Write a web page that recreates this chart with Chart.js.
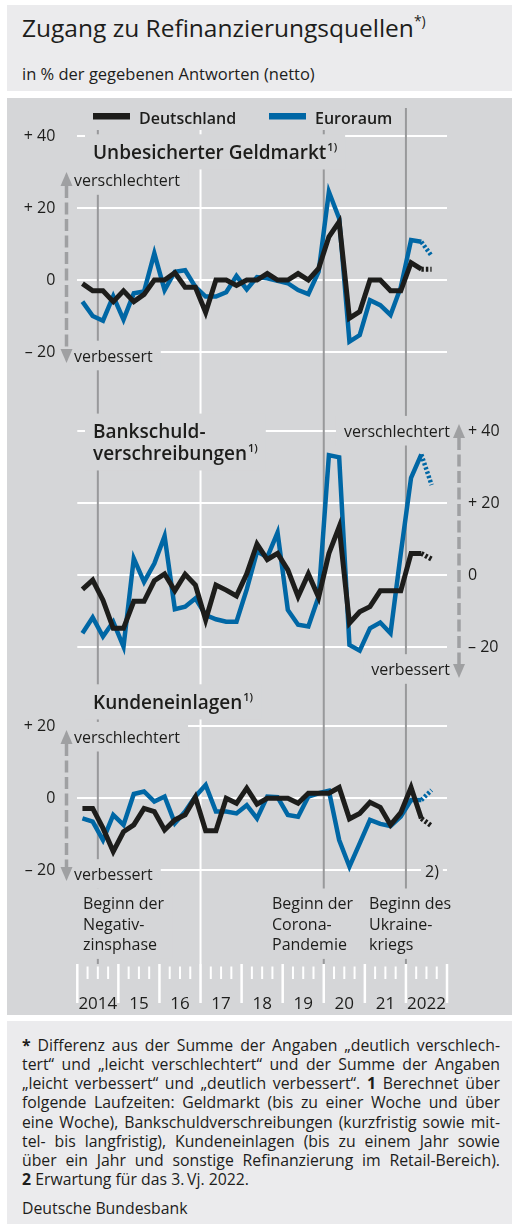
<!DOCTYPE html>
<html lang="de">
<head>
  <meta charset="UTF-8" />
  <title>Zugang zu Refinanzierungsquellen</title>
  <script src="https://cdn.jsdelivr.net/npm/chart.js"></script>
  <style>
    body { margin: 0; width: 512px; height: 1224px; background: #fff; position: relative; overflow: hidden;
           font-family: "Open Sans", sans-serif; color: #1d1d1b; }
    .box { position: absolute; left: 7px; width: 505px; background: #ebebed; }
    #head { top: 5px; height: 86px; }
    #title { position: absolute; left: 15px; top: 6px; font-size: 24.5px; line-height: normal; white-space: nowrap; }
    #title sup { font-size: 14px; line-height: 0; vertical-align: 11px; }
    #sub { position: absolute; left: 15px; top: 57px; font-size: 16.5px; line-height: normal; white-space: nowrap; }
    #panel { position: absolute; left: 7px; top: 98px; width: 505px; height: 917px; background: #d5d6d8; }
    #notes { top: 1021px; height: 203px; }
    .ln { position: absolute; left: 15px; width: 478px; font-size: 15.8px; line-height: 19.2px; white-space: nowrap; }
    .ln.just { display: flex; justify-content: space-between; }
  </style>
</head>
<body>
  <div id="head" class="box">
    <div id="title">Zugang zu Refinanzierungsquellen<sup>*)</sup></div>
    <div id="sub">in % der gegebenen Antworten (netto)</div>
  </div>
  <div id="panel"><canvas id="chart"></canvas></div>
  <div id="notes" class="box"></div>

  <script>
    // quarters shown on the axis; the data run to 2022 Q3 (last value = expectation)
    const quarterLabels = [
      '2014 Q1', '2014 Q2', '2014 Q3', '2014 Q4', '2015 Q1', '2015 Q2', '2015 Q3', '2015 Q4',
      '2016 Q1', '2016 Q2', '2016 Q3', '2016 Q4', '2017 Q1', '2017 Q2', '2017 Q3', '2017 Q4',
      '2018 Q1', '2018 Q2', '2018 Q3', '2018 Q4', '2019 Q1', '2019 Q2', '2019 Q3', '2019 Q4',
      '2020 Q1', '2020 Q2', '2020 Q3', '2020 Q4', '2021 Q1', '2021 Q2', '2021 Q3', '2021 Q4',
      '2022 Q1', '2022 Q2', '2022 Q3', '2022 Q4'
    ];
    const yearLabels = ['2014', '15', '16', '17', '18', '19', '20', '21', '2022'];
    const seriesNames = ['Deutschland', 'Euroraum'];

    // Unbesicherter Geldmarkt
    const moneyDE = [-1, -3, -3, -6, -3, -6, -4, 0, 0, 2, -2, -2, -9, 0, 0, -1.5, 0, 0, 1.8, 0,
                     0, 1.8, 0, 3.2, 12, 16.2, -10.6, -8.8, 0, 0, -3, -3, 4.8, 3, 3];
    const moneyEA = [-6, -10, -11.3, -4.5, -11, -3.7, -3.2, 7.4, -2.8, 2.3, 2.7, -1.9, -4.6, -4.6, -3.4, 1.1, -2.6, 0.8, 0.5, -0.2,
                     -0.9, -2.8, -3.9, 2.3, 24.5, 17.1, -17.1, -15.3, -5.6, -7, -9.7, -2, 11.1, 10.6, 6.7];
    // Bankschuldverschreibungen
    const bondsDE = [-4, -1.4, -7, -14.8, -14.8, -7.3, -7.3, -1.6, 0.3, -4.4, 0.2, -2.8, -12.5, -2.8, -4.2, -5.8, 0.3, 8.6, 4.3, 6,
                     1.4, -6, 0.3, -6.2, 6, 13.4, -13.4, -10.2, -8.8, -4.4, -4.4, -4.4, 6, 6, 4.4];
    const bondsEA = [-16.2, -11.8, -17.1, -13, -19.9, 4.6, -1.9, 3.2, 10.8, -9.5, -8.8, -6.5, -11.1, -12.3, -13, -13, -4, 6.5, 5, 11.8,
                     -9.7, -13.8, -14.3, -6, 33.3, 32.7, -19.4, -21, -14.8, -13.2, -16.2, 6, 27, 33.5, 25];
    // Kundeneinlagen
    const depositsDE = [-2.8, -2.8, -8.3, -14.8, -9.3, -7.4, -2.8, -3.7, -8.8, -6, -4.6, 0.3, -9, -9, 0, -1.4, 2.8, -1.6, 0, 0,
                        0, -1.4, 1.4, 1.4, 1.4, 3, -5.7, -4.2, -1.1, -2.5, -7.4, -4, 3, -5.6, -7.7];
    const depositsEA = [-5.6, -6.5, -11.6, -4.6, -7.4, 1.2, 1.9, -0.9, 0.5, -6.9, -3.7, 0.5, 3.7, -3.7, -3.7, -4.2, -1.9, -5.6, 0.5, 0.3,
                        -4.6, -5.1, 0.5, 1.4, 2.1, -11.6, -19, -12.5, -6, -7.1, -7.7, -5.1, -0.5, -0.5, 2.3];

    const yTicksMoney = [-20, 0, 20, 40];
    const yTicksBonds = [-20, 0, 20, 40];
    const yTicksDeposits = [-20, 0, 20];

    const BLACK = '#1d1d1b', BLUE = '#0067a5', PANEL = '#d5d6d8', EVENT = '#98999b', ARROW = '#9fa0a2';
    const FONT = '"Open Sans", sans-serif';
    const EXPECTED = quarterLabels.indexOf('2022 Q3');

    // page layout of the panel (page pixels)
    const OX = 7, OY = 98;
    const AREA_TOP = 108, AREA_BOTTOM = 964;
    const PX_PER_UNIT = 3.6;
    function yRange(zeroY) {
      return { min: -(AREA_BOTTOM - zeroY) / PX_PER_UNIT, max: (zeroY - AREA_TOP) / PX_PER_UNIT };
    }

    const eventLines = [
      { from: '2014 Q3', color: EVENT },
      { from: '2017 Q1', color: '#ffffff' },
      { from: '2020 Q1', color: EVENT },
      { from: '2022 Q1', color: EVENT }
    ];

    // text on the panel, page coordinates (x, baseline)
    const textBlocks = [
      { lines: ['Unbesicherter Geldmarkt'], sup: '1)', x: 93, y: 159, size: 19, weight: 600 },
      { lines: ['verschlechtert'], x: 74, y: 186 },
      { lines: ['verbessert'], x: 74, y: 361.5 },
      { lines: ['Bankschuld-', 'verschreibungen'], sup: '1)', x: 93, y: 438.3, lh: 21.7, size: 19, weight: 600 },
      { lines: ['verschlechtert'], x: 450, y: 436.7, align: 'right' },
      { lines: ['verbessert'], x: 450, y: 675, align: 'right' },
      { lines: ['Kundeneinlagen'], sup: '1)', x: 93, y: 709, size: 19, weight: 600 },
      { lines: ['verschlechtert'], x: 74, y: 742.7 },
      { lines: ['verbessert'], x: 74, y: 880 },
      { lines: ['2)'], x: 425, y: 876.7, pad: 4 },
      { lines: ['Beginn der', 'Negativ-', 'zinsphase'], x: 83, y: 909.3, lh: 20.4 },
      { lines: ['Beginn der', 'Corona-', 'Pandemie'], x: 272, y: 909.3, lh: 20.4 },
      { lines: ['Beginn des', 'Ukraine-', 'kriegs'], x: 369, y: 909.3, lh: 20.4 }
    ];
    const arrows = [
      { x: 66.5, top: 172, bottom: 363 },
      { x: 459, top: 424, bottom: 678 },
      { x: 66.5, top: 730, bottom: 881 }
    ];

    function measureBlock(ctx, b) {
      const size = b.size || 16, weight = b.weight || 400;
      ctx.font = `${weight} ${size}px ${FONT}`;
      const widths = b.lines.map(s => ctx.measureText(s).width);
      let supW = 0;
      if (b.sup) {
        ctx.font = `${weight} 11px ${FONT}`;
        supW = ctx.measureText(b.sup).width + 1;
      }
      const last = widths.length - 1;
      const maxW = Math.max(...widths.slice(0, last), widths[last] + supW);
      return { size, weight, widths, maxW, lh: b.lh || size * 1.2 };
    }

    function fmt(v) {
      if (v > 0) return '+ ' + v;
      if (v < 0) return '\u2013 ' + (-v);
      return '0';
    }

    const decor = {
      id: 'decor',
      beforeDatasetsDraw(chart) {
        const { ctx, chartArea: a, scales: { x } } = chart;
        const edge = i => x.getPixelForValue(i - 0.5);
        ctx.save();

        eventLines.forEach(ev => {
          const px = edge(quarterLabels.indexOf(ev.from));
          ctx.strokeStyle = ev.color;
          ctx.lineWidth = 2;
          ctx.beginPath();
          ctx.moveTo(px, a.top);
          ctx.lineTo(px, a.bottom);
          ctx.stroke();
        });

        // quarter and year marks under the plot
        ctx.strokeStyle = '#ffffff';
        for (let i = 0; i <= quarterLabels.length; i++) {
          const major = i % 4 === 0;
          const px = edge(i);
          ctx.lineWidth = major ? 2.5 : 2;
          ctx.beginPath();
          ctx.moveTo(px, a.bottom + (major ? 0 : 2.5));
          ctx.lineTo(px, a.bottom + (major ? 39 : 15));
          ctx.stroke();
        }

        // value labels of the three y scales
        ctx.fillStyle = BLACK;
        ctx.font = `16px ${FONT}`;
        ctx.textBaseline = 'middle';
        ['y1', 'y2', 'y3'].forEach(id => {
          const s = chart.scales[id];
          const left = s.options.position === 'left';
          ctx.textAlign = left ? 'right' : 'left';
          s.ticks.forEach(t => {
            ctx.fillText(fmt(t.value), left ? a.left - 22 : a.right + 21, s.getPixelForValue(t.value));
          });
        });

        ctx.translate(-OX, -OY);

        // legend
        ctx.font = `600 16px ${FONT}`;
        ctx.textBaseline = 'alphabetic';
        ctx.textAlign = 'left';
        const legendX = [93, 269];
        const legendW = ctx.measureText(seriesNames[1]).width;
        ctx.fillStyle = PANEL;
        ctx.fillRect(85, 102, legendX[1] + 46 + legendW + 8 - 85, 28);
        [BLACK, BLUE].forEach((c, i) => {
          ctx.fillStyle = c;
          ctx.fillRect(legendX[i], 113, 37, 6.5);
          ctx.fillStyle = BLACK;
          ctx.fillText(seriesNames[i], legendX[i] + 46, 123.5);
        });

        // knock the lines out behind the labels, then write them
        const sizes = textBlocks.map(b => measureBlock(ctx, b));
        textBlocks.forEach((b, k) => {
          const m = sizes[k];
          const pad = b.pad ?? 8;
          const left = b.align === 'right' ? b.x - m.maxW : b.x;
          const top = b.y - m.size * 1.3;
          const bottom = b.y + (b.lines.length - 1) * m.lh + m.size * 0.55;
          ctx.fillStyle = PANEL;
          ctx.fillRect(left - pad, top, m.maxW + 2 * pad, bottom - top);
        });
        textBlocks.forEach((b, k) => {
          const m = sizes[k];
          ctx.fillStyle = BLACK;
          ctx.textBaseline = 'alphabetic';
          ctx.textAlign = b.align === 'right' ? 'right' : 'left';
          ctx.font = `${m.weight} ${m.size}px ${FONT}`;
          b.lines.forEach((s, i) => ctx.fillText(s, b.x, b.y + i * m.lh));
          if (b.sup) {
            const last = b.lines.length - 1;
            ctx.font = `${m.weight} 11px ${FONT}`;
            ctx.textAlign = 'left';
            ctx.fillText(b.sup, b.x + m.widths[last] + 1, b.y + last * m.lh - 8.5);
          }
        });

        // dashed arrows: up = verschlechtert, down = verbessert
        ctx.fillStyle = ARROW;
        ctx.strokeStyle = ARROW;
        arrows.forEach(ar => {
          const hw = 6, hh = 14;
          ctx.beginPath();
          ctx.moveTo(ar.x, ar.top);
          ctx.lineTo(ar.x - hw, ar.top + hh);
          ctx.lineTo(ar.x + hw, ar.top + hh);
          ctx.closePath();
          ctx.fill();
          ctx.beginPath();
          ctx.moveTo(ar.x, ar.bottom);
          ctx.lineTo(ar.x - hw, ar.bottom - hh);
          ctx.lineTo(ar.x + hw, ar.bottom - hh);
          ctx.closePath();
          ctx.fill();
          ctx.lineWidth = 3.5;
          ctx.setLineDash([12, 4.5]);
          ctx.beginPath();
          ctx.moveTo(ar.x, ar.top + hh);
          ctx.lineTo(ar.x, ar.bottom - hh);
          ctx.stroke();
          ctx.setLineDash([]);
        });

        ctx.restore();
      }
    };

    function series(data, color, axis, width, order) {
      return {
        data, yAxisID: axis, xAxisID: 'x', order,
        borderColor: color, borderWidth: width, pointRadius: 0, tension: 0, fill: false,
        segment: { borderDash: c => (c.p1DataIndex === EXPECTED ? [2.5, 2] : undefined) }
      };
    }

    function yAxis(position, zeroY, ticks) {
      return {
        type: 'linear', position, ...yRange(zeroY),
        afterBuildTicks: s => { s.ticks = ticks.map(v => ({ value: v })); },
        afterFit: s => { s.width = 0; },
        grid: { color: '#ffffff', lineWidth: 2, drawTicks: false },
        border: { display: false },
        ticks: { display: false }
      };
    }

    new Chart(document.getElementById('chart'), {
      type: 'line',
      data: {
        labels: quarterLabels,
        datasets: [
          series(moneyDE, BLACK, 'y1', 5, 0),
          series(moneyEA, BLUE, 'y1', 4.5, 1),
          series(bondsDE, BLACK, 'y2', 5, 0),
          series(bondsEA, BLUE, 'y2', 4.5, 1),
          series(depositsDE, BLACK, 'y3', 5, 0),
          series(depositsEA, BLUE, 'y3', 4.5, 1)
        ]
      },
      options: {
        responsive: true,
        maintainAspectRatio: false,
        animation: false,
        layout: { padding: { left: 70.3, right: 65, top: AREA_TOP - OY, bottom: 0 } },
        plugins: { legend: { display: false }, tooltip: { enabled: false } },
        scales: {
          x: { type: 'category', labels: quarterLabels, offset: true, display: false },
          xYears: {
            type: 'category', labels: yearLabels, offset: true, position: 'bottom',
            grid: { display: false }, border: { display: false },
            afterFit: s => { s.height = 917 - (AREA_BOTTOM - OY); },
            ticks: { padding: 22, color: BLACK, font: { family: FONT, size: 17 }, maxRotation: 0, autoSkip: false }
          },
          y1: yAxis('left', 280, yTicksMoney),
          y2: yAxis('right', 575, yTicksBonds),
          y3: yAxis('left', 798.3, yTicksDeposits)
        }
      },
      plugins: [decor]
    });

    // footnotes, one div per printed line
    const noteLines = [
      '<b>*</b> Differenz aus der Summe der Angaben „deutlich verschlech-',
      'tert“ und „leicht verschlechtert“ und der Summe der Angaben',
      '„leicht verbessert“ und „deutlich verbessert“. <b>1</b> Berechnet über',
      'folgende Laufzeiten: Geldmarkt (bis zu einer Woche und über',
      'eine Woche), Bankschuldverschreibungen (kurzfristig sowie mit-',
      'tel- bis langfristig), Kundeneinlagen (bis zu einem Jahr sowie',
      'über ein Jahr und sonstige Refinanzierung im Retail-Bereich).',
      '<b>2</b> Erwartung für das 3.\u2009Vj. 2022.'
    ];
    const notes = document.getElementById('notes');
    noteLines.forEach((html, k) => {
      const div = document.createElement('div');
      div.className = 'ln';
      div.style.top = (14.8 + 19.2 * k) + 'px';
      if (k < 7) {
        div.classList.add('just');
        div.innerHTML = html.split(' ').map(w => '<span>' + w + '</span>').join('');
      } else {
        div.innerHTML = html;
      }
      notes.appendChild(div);
    });
    const src = document.createElement('div');
    src.className = 'ln';
    src.style.top = '178.3px';
    src.textContent = 'Deutsche Bundesbank';
    notes.appendChild(src);
  </script>
</body>
</html>
